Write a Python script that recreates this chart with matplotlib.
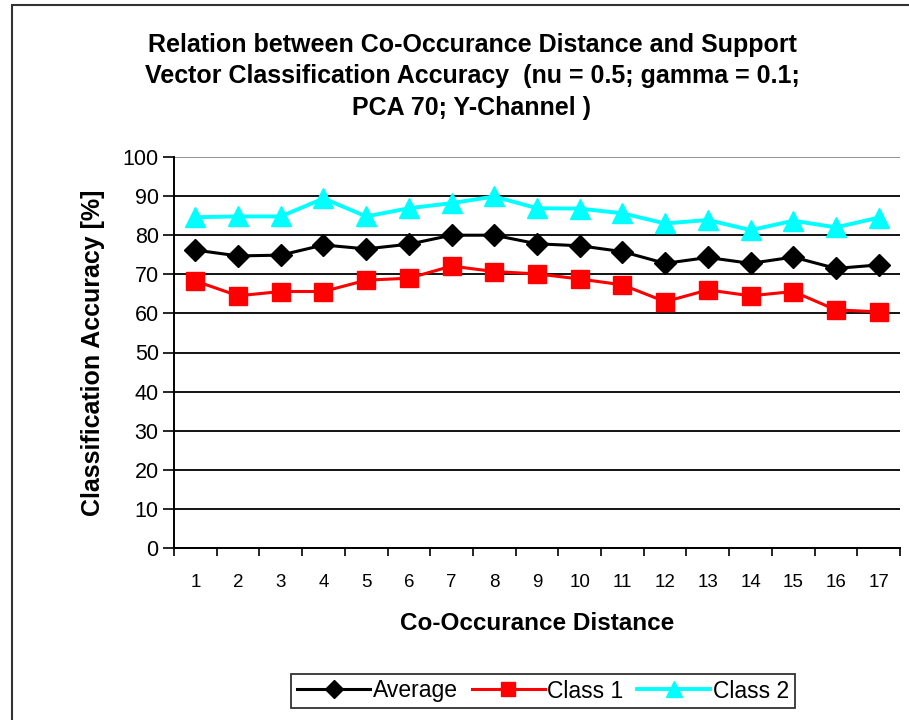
import numpy as np
import matplotlib.pyplot as plt
from matplotlib.patches import Rectangle
from matplotlib.lines import Line2D

# data
distance = list(range(1, 18))
average = [76.2, 74.7, 74.9, 77.5, 76.5, 77.7, 80.0, 80.0, 77.8, 77.3, 75.8, 72.8, 74.3, 72.8, 74.4, 71.5, 72.4]
class_1 = [68.3, 64.5, 65.6, 65.6, 68.5, 69.0, 72.1, 70.7, 70.1, 68.8, 67.3, 63.0, 66.0, 64.5, 65.6, 60.9, 60.4]
class_2 = [84.6, 84.8, 84.8, 89.4, 84.8, 86.9, 88.2, 89.9, 86.9, 86.8, 85.6, 83.0, 83.9, 81.3, 83.7, 82.0, 84.5]

plt.rcParams['font.family'] = ['Liberation Sans', 'DejaVu Sans']

W, H = 909, 720
fig = plt.figure(figsize=(W / 100, H / 100), dpi=100)

# outer chart border
fig.patches.append(Rectangle((12 / W, -0.05), 1.2, 1 - 5 / H + 0.05, transform=fig.transFigure,
                             fill=False, edgecolor='#333333', linewidth=1.5))

ax = fig.add_axes([174 / W, 1 - 548 / H, 726 / W, 391 / H])

ax.plot(distance, average, color='black', lw=2.2, marker='D', ms=11, label='Average', zorder=4)
ax.plot(distance, class_1, color='#ff0000', lw=2.2, marker='s', ms=13.5, label='Class 1', zorder=3)
ax.plot(distance, class_2, color='#00ffff', lw=2.8, marker='^', ms=14, label='Class 2', zorder=3)

ax.set_xlim(0.5, 17.5)
ax.set_ylim(0, 100)
ax.set_yticks(np.arange(0, 101, 10))
ax.set_xticks(distance)
ax.set_xticks(np.arange(0.5, 18, 1), minor=True)
ax.tick_params(axis='x', which='major', length=0, pad=19, labelsize=13.5)
ax.tick_params(axis='x', which='minor', length=6, width=1.2, direction='out')
ax.tick_params(axis='y', length=8, width=1.2, direction='out', labelsize=15.5, pad=3)

ax.grid(axis='y', color='black', lw=1.3)
ax.get_ygridlines()[-1].set_color('#888888')
ax.set_axisbelow(True)
for s in ['top', 'right']:
    ax.spines[s].set_visible(False)
for s in ['left', 'bottom']:
    ax.spines[s].set_linewidth(1.4)

ax.set_xlabel('Co-Occurance Distance', fontsize=17.5, fontweight='bold', labelpad=15)
ax.set_ylabel('Classification Accuracy [%]', fontsize=18, fontweight='bold', labelpad=13)

title_lines = ['Relation between Co-Occurance Distance and Support',
               'Vector Classification Accuracy  (nu = 0.5; gamma = 0.1;',
               'PCA 70; Y-Channel )']
for i, line in enumerate(title_lines):
    fig.text(472 / W, 1 - (45 + 31.5 * i) / H, line, ha='center', va='center',
             fontsize=18, fontweight='bold')

handles = [Line2D([], [], color='black', lw=2.2, marker='D', ms=9),
           Line2D([], [], color='#ff0000', lw=2.2, marker='s', ms=10),
           Line2D([], [], color='#00ffff', lw=2.8, marker='^', ms=11)]
leg = fig.legend(handles, ['Average', 'Class 1', 'Class 2'], loc='center',
                 bbox_to_anchor=(543 / W, 1 - 691 / H), ncol=3, frameon=True,
                 fancybox=False, edgecolor='black', fontsize=16.5, handlelength=3.2,
                 handletextpad=0.1, columnspacing=0.6, borderpad=0.25)
leg.get_frame().set_linewidth(1.3)

fig.savefig('out.png', dpi=100)
